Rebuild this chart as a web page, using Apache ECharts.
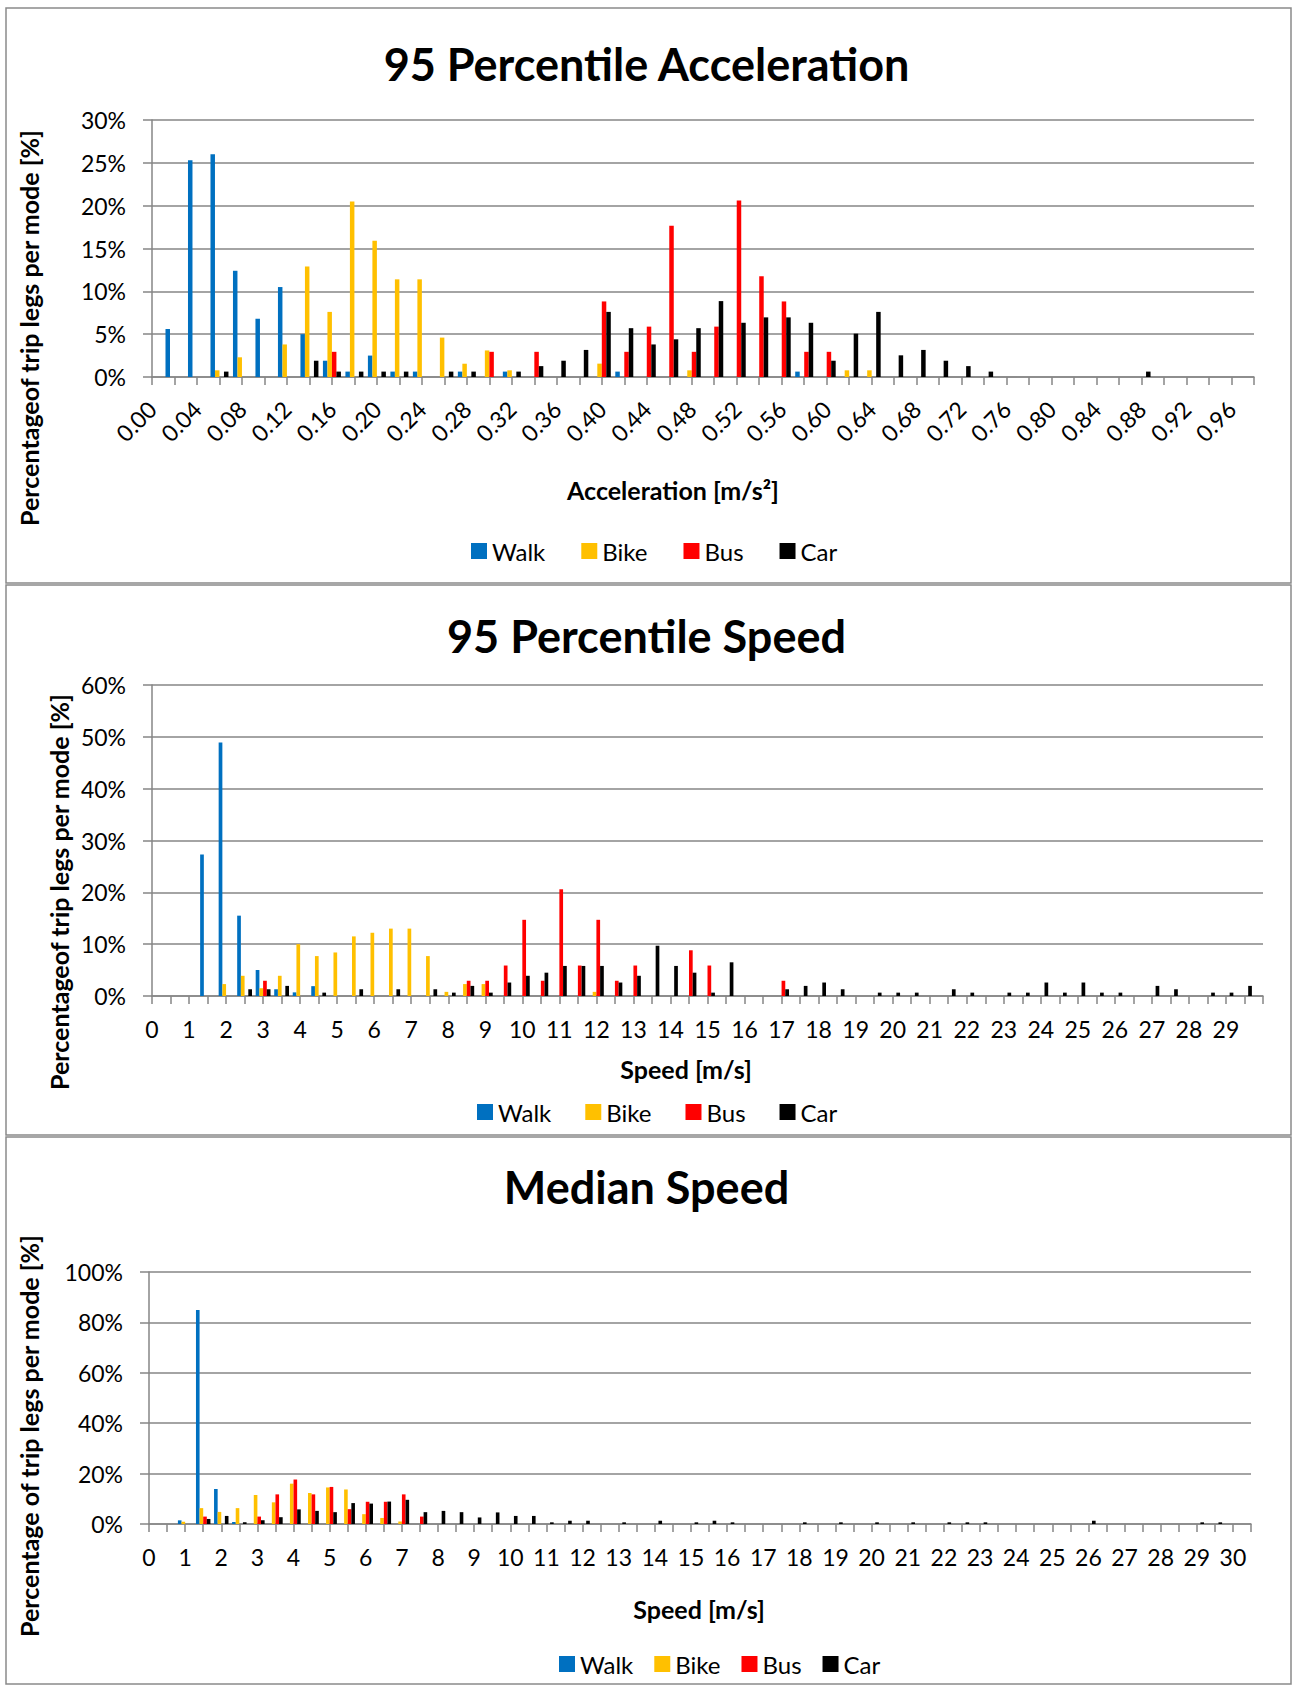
<!DOCTYPE html>
<html><head><meta charset="utf-8">
<script src="https://cdn.jsdelivr.net/npm/echarts@6/dist/echarts.min.js"></script>
<style>html,body{margin:0;padding:0;background:#fff;} #c{width:1293px;height:1685px;}</style>
</head><body><div id="c"></div>
<script>
// ---------- Chart 1: 95 Percentile Acceleration ----------
const cats1 = ['0.00','0.02','0.04','0.06','0.08','0.10','0.12','0.14','0.16','0.18',
  '0.20','0.22','0.24','0.26','0.28','0.30','0.32','0.34','0.36','0.38',
  '0.40','0.42','0.44','0.46','0.48','0.50','0.52','0.54','0.56','0.58',
  '0.60','0.62','0.64','0.66','0.68','0.70','0.72','0.74','0.76','0.78',
  '0.80','0.82','0.84','0.86','0.88','0.90','0.92','0.94','0.96','0.98'];
const walk1 = [0,5.6,25.3,26.0,12.4,6.8,10.5,5.0,1.9,0.63,
  2.5,0.63,0.63,0,0.63,0,0.63,0,0,0,
  0,0.63,0,0,0,0,0,0,0,0.63,
  0,0,0,0,0,0,0,0,0,0,
  0,0,0,0,0,0,0,0,0,0];
const bike1 = [0,0,0,0.78,2.3,0,3.8,12.9,7.6,20.5,
  15.9,11.4,11.4,4.6,1.55,3.1,0.78,0,0,0,
  1.56,0,0,0,0.78,0,0,0,0,0,
  0,0.78,0.78,0,0,0,0,0,0,0,
  0,0,0,0,0,0,0,0,0,0];
const bus1 = [0,0,0,0,0,0,0,0,2.94,0,
  0,0,0,0,0,2.94,0,2.94,0,0,
  8.82,2.94,5.88,17.65,2.94,5.88,20.59,11.76,8.82,2.94,
  2.94,0,0,0,0,0,0,0,0,0,
  0,0,0,0,0,0,0,0,0,0];
const car1 = [0,0,0,0.63,0,0,0,1.9,0.63,0.63,
  0.63,0.63,0,0.63,0.63,0,0.63,1.27,1.9,3.16,
  7.6,5.7,3.8,4.4,5.7,8.86,6.33,6.96,6.96,6.33,
  1.9,5.06,7.6,2.53,3.16,1.9,1.27,0.63,0,0,
  0,0,0,0,0.63,0,0,0,0,0];

// ---------- Chart 2: 95 Percentile Speed ----------
const cats2 = ['0','0.5','1','1.5','2','2.5','3','3.5','4','4.5',
  '5','5.5','6','6.5','7','7.5','8','8.5','9','9.5',
  '10','10.5','11','11.5','12','12.5','13','13.5','14','14.5',
  '15','15.5','16','16.5','17','17.5','18','18.5','19','19.5',
  '20','20.5','21','21.5','22','22.5','23','23.5','24','24.5',
  '25','25.5','26','26.5','27','27.5','28','28.5','29','29.5','30'];
const walk2 = [0,0,0,27.3,48.9,15.5,5.0,1.3,0.7,1.9,
  0,0,0,0,0,0,0,0,0,0,
  0,0,0,0,0,0,0,0,0,0,
  0,0,0,0,0,0,0,0,0,0,
  0,0,0,0,0,0,0,0,0,0,
  0,0,0,0,0,0,0,0,0,0,0];
const bike2 = [0,0,0,0,2.3,3.9,1.5,3.9,10.0,7.7,
  8.4,11.5,12.2,13.0,13.0,7.7,0.8,2.3,2.3,0,
  0,0,0,0,0.8,0,0,0,0,0,
  0,0,0,0,0,0,0,0,0,0,
  0,0,0,0,0,0,0,0,0,0,
  0,0,0,0,0,0,0,0,0,0,0];
const bus2 = [0,0,0,0,0,0,2.94,0,0,0,
  0,0,0,0,0,0,0,2.94,2.94,5.88,
  14.7,2.94,20.59,5.88,14.7,2.94,5.88,0,0,8.82,
  5.88,0,0,0,2.94,0,0,0,0,0,
  0,0,0,0,0,0,0,0,0,0,
  0,0,0,0,0,0,0,0,0,0,0];
const car2 = [0,0,0,0,0,1.3,1.3,1.95,0,0.65,
  0,1.3,0,1.3,0,1.3,0.65,1.95,0.65,2.6,
  3.9,4.5,5.8,5.8,5.8,2.6,3.9,9.7,5.8,4.5,
  0.65,6.5,0,0,1.3,1.95,2.6,1.3,0,0.65,
  0.65,0.65,0,1.3,0.65,0,0.65,0.65,2.6,0.65,
  2.6,0.65,0.65,0,1.95,1.3,0,0.65,0.65,1.95,0];

// ---------- Chart 3: Median Speed ----------
const cats3 = ['0','0.5','1','1.5','2','2.5','3','3.5','4','4.5',
  '5','5.5','6','6.5','7','7.5','8','8.5','9','9.5',
  '10','10.5','11','11.5','12','12.5','13','13.5','14','14.5',
  '15','15.5','16','16.5','17','17.5','18','18.5','19','19.5',
  '20','20.5','21','21.5','22','22.5','23','23.5','24','24.5',
  '25','25.5','26','26.5','27','27.5','28','28.5','29','29.5','30','30.5'];
const walk3 = [0,0,1.45,84.9,13.9,0.8,0,0,0,0,
  0,0,0,0,0,0,0,0,0,0,
  0,0,0,0,0,0,0,0,0,0,
  0,0,0,0,0,0,0,0,0,0,
  0,0,0,0,0,0,0,0,0,0,
  0,0,0,0,0,0,0,0,0,0,0,0];
const bike3 = [0,0,0.9,6.3,4.8,6.3,11.5,8.6,16.0,12.3,
  14.5,13.7,3.9,2.4,1.0,0,0,0,0,0,
  0,0,0,0,0,0,0,0,0,0,
  0,0,0,0,0,0,0,0,0,0,
  0,0,0,0,0,0,0,0,0,0,
  0,0,0,0,0,0,0,0,0,0,0,0];
const bus3 = [0,0,0,2.94,0,0,2.94,11.76,17.65,11.76,
  14.71,5.88,8.82,8.82,11.76,2.94,0,0,0,0,
  0,0,0,0,0,0,0,0,0,0,
  0,0,0,0,0,0,0,0,0,0,
  0,0,0,0,0,0,0,0,0,0,
  0,0,0,0,0,0,0,0,0,0,0,0];
const car3 = [0,0,0,2.0,3.2,0.7,1.5,2.7,5.8,5.2,
  4.7,8.3,8.1,8.9,9.6,4.7,5.2,4.7,2.6,4.6,
  3.2,3.2,0.66,1.3,1.3,0,0.66,0,1.3,0,
  0.66,1.3,0.66,0,0,0,0.66,0,0.66,0,
  0.66,0,0.66,0,0.66,0.66,0.66,0,0,0,
  0,0,1.3,0,0,0,0,0,0.66,0.66,0,0];

const seriesNames = ['Walk','Bike','Bus','Car'];
const colors = ['#0070C0','#FFC000','#FF0000','#000000'];

const FONT = 'Lato';
const GRAY = '#868686';

const chart = echarts.init(document.getElementById('c'), null, {renderer:'svg'});

function yAxis(gi, max, interval){
  return {gridIndex:gi, type:'value', min:0, max:max, interval:interval,
    axisLine:{show:true, lineStyle:{color:GRAY, width:1.5}},
    axisTick:{show:true, length:9, lineStyle:{color:GRAY, width:1.5}},
    splitLine:{show:true, lineStyle:{color:GRAY, width:1.5}},
    axisLabel:{formatter:'{value}%', fontSize:23, fontFamily:FONT, color:'#000', margin:26}};
}
function xAxis(gi, data, labelInterval, rotate, margin, fs){
  return {gridIndex:gi, type:'category', data:data, boundaryGap:false,
    axisLine:{show:true, onZero:false, lineStyle:{color:GRAY, width:1.5}},
    axisTick:{show:true, interval:0, length:8, lineStyle:{color:GRAY, width:1.5}},
    splitLine:{show:false},
    axisLabel:{interval:labelInterval, rotate:rotate, margin:margin, fontSize:fs, fontFamily:FONT, color:'#000'}};
}
function bars(gi, arrs){
  return arrs.map((d,i)=>({name:seriesNames[i], type:'bar', xAxisIndex:gi, yAxisIndex:gi, data:d,
    barGap:'0%', barCategoryGap:'20%', itemStyle:{color:colors[i]}}));
}
function legend(left, top, gap){
  return {data:seriesNames, left:left, top:top, padding:0, itemGap:gap, itemWidth:16, itemHeight:16,
    icon:'rect', textStyle:{fontSize:24, fontFamily:FONT, color:'#000'}};
}
function txt(x, y, text, size, rot){
  return {type:'text', x:x, y:y, rotation:rot||0, silent:true,
    style:{text:text, font:'bold '+size+'px '+FONT, fontSize:size, fontWeight:'bold', fontFamily:FONT,
      textAlign:'center', textVerticalAlign:'middle', align:'center', verticalAlign:'middle', fill:'#000'}};
}
function frame(y, h){
  return {type:'rect', silent:true, shape:{x:6, y:y, width:1285, height:h},
    style:{fill:'none', stroke:'#8a8a8a', lineWidth:1.5}};
}
const titleStyle = {fontSize:45, fontWeight:'bold', fontFamily:FONT, color:'#000'};

chart.setOption({
  animation:false,
  backgroundColor:'#fff',
  title:[
    {text:'95 Percentile Acceleration', left:'center', top:41, padding:0, textStyle:titleStyle},
    {text:'95 Percentile Speed', left:'center', top:613, padding:0, textStyle:titleStyle},
    {text:'Median Speed', left:'center', top:1164, padding:0, textStyle:titleStyle}
  ],
  legend:[legend(471,539,36), legend(477,1100,34), legend(559,1652,21)],
  grid:[
    {left:152, top:120, width:1102, height:257, outerBoundsMode:'none'},
    {left:152, top:685, width:1111, height:311, outerBoundsMode:'none'},
    {left:149, top:1272, width:1102, height:252, outerBoundsMode:'none'}
  ],
  xAxis:[
    xAxis(0, cats1, 1, 45, 28, 23),
    xAxis(1, cats2, (i)=> i % 2 === 0 && i < cats2.length - 1, 0, 21, 23),
    xAxis(2, cats3, 1, 0, 21, 23)
  ],
  yAxis:[yAxis(0,30,5), yAxis(1,60,10), yAxis(2,100,20)],
  series:[].concat(
    bars(0,[walk1,bike1,bus1,car1]),
    bars(1,[walk2,bike2,bus2,car2]),
    bars(2,[walk3,bike3,bus3,car3])
  ),
  graphic:[
    frame(8,575), frame(585,550), frame(1137,547),
    txt(673, 490, 'Acceleration [m/s\u00B2]', 25),
    txt(686, 1069, 'Speed [m/s]', 25),
    txt(699, 1609, 'Speed [m/s]', 25),
    txt(28.5, 328, 'Percentageof trip legs per mode [%]', 25, Math.PI/2),
    txt(58.5, 892, 'Percentageof trip legs per mode [%]', 25, Math.PI/2),
    txt(28.5, 1436, 'Percentage of trip legs per mode [%]', 25, Math.PI/2)
  ]
});
</script></body></html>
